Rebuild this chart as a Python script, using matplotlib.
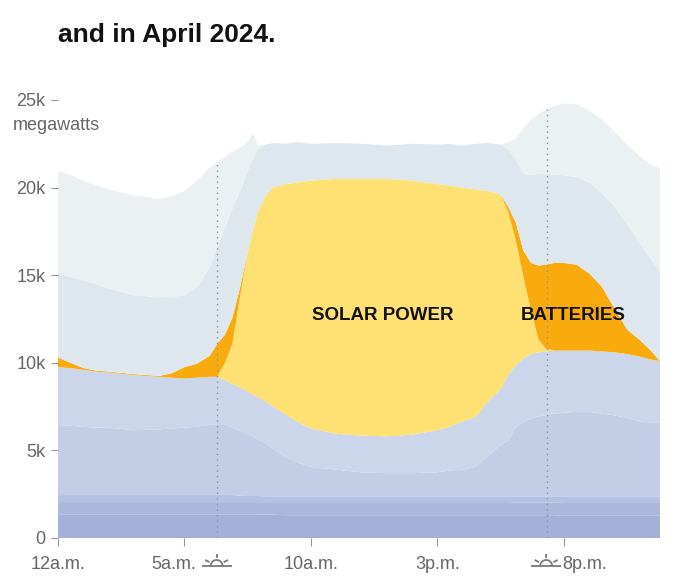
import numpy as np
import matplotlib
matplotlib.use('Agg')
import matplotlib.pyplot as plt

# 時刻（時）と各レイヤーの上端（千MW）
hours = [0, 0.5, 1, 1.5, 2, 3, 4, 4.5, 5, 5.5,
         6, 6.3, 6.6, 6.9, 7.2, 7.5, 7.7, 7.9, 8.2, 8.5,
         9, 9.5, 10, 11, 12, 13, 14, 15, 15.5, 16,
         16.5, 17, 17.5, 17.8, 18.1, 18.4, 18.7, 19, 19.3, 19.6,
         20, 20.5, 21, 21.5, 22, 22.5, 23, 23.4, 23.8]

layer1_top = [1.35, 1.35, 1.35, 1.35, 1.35, 1.35, 1.35, 1.35, 1.35, 1.35,
              1.35, 1.35, 1.35, 1.35, 1.35, 1.35, 1.35, 1.35, 1.33, 1.33,
              1.3, 1.3, 1.3, 1.3, 1.3, 1.3, 1.3, 1.3, 1.3, 1.3,
              1.3, 1.3, 1.3, 1.3, 1.3, 1.3, 1.3, 1.3, 1.3, 1.3,
              1.28, 1.28, 1.28, 1.28, 1.28, 1.28, 1.28, 1.28, 1.28]

layer2_top = [2.05, 2.05, 2.05, 2.05, 2.05, 2.05, 2.05, 2.05, 2.05, 2.05,
              2.05, 2.05, 2.05, 2.05, 2.05, 2.05, 2.05, 2.05, 2.05, 2.05,
              2.05, 2.05, 2.05, 2.05, 2.05, 2.05, 2.05, 2.05, 2.05, 2.05,
              2.05, 2.05, 2.05, 2.05, 2.03, 2.03, 2.03, 2.03, 2.03, 2.03,
              2.0, 2.0, 2.0, 2.0, 2.0, 2.0, 2.0, 2.0, 2.0]

layer3_top = [2.45, 2.45, 2.45, 2.45, 2.45, 2.45, 2.45, 2.45, 2.45, 2.45,
              2.45, 2.45, 2.45, 2.45, 2.42, 2.4, 2.4, 2.4, 2.38, 2.38,
              2.35, 2.35, 2.35, 2.35, 2.35, 2.35, 2.35, 2.35, 2.35, 2.35,
              2.35, 2.35, 2.35, 2.35, 2.35, 2.35, 2.35, 2.35, 2.35, 2.35,
              2.35, 2.35, 2.35, 2.35, 2.35, 2.35, 2.35, 2.35, 2.35]

layer4_top = [6.45, 6.4, 6.35, 6.3, 6.3, 6.15, 6.2, 6.25, 6.3, 6.35,
              6.45, 6.5, 6.5, 6.3, 6.1, 5.95, 5.8, 5.65, 5.4, 5.1,
              4.6, 4.3, 4.05, 3.9, 3.75, 3.7, 3.7, 3.75, 3.85, 3.9,
              4.05, 4.65, 5.3, 5.55, 6.35, 6.6, 6.8, 6.95, 7.0, 7.1,
              7.15, 7.2, 7.2, 7.1, 7.0, 6.85, 6.65, 6.6, 6.6]

layer5_top = [9.75, 9.7, 9.6, 9.5, 9.45, 9.3, 9.2, 9.15, 9.1, 9.15,
              9.2, 9.2, 9.0, 8.8, 8.6, 8.35, 8.2, 8.05, 7.8, 7.5,
              7.05, 6.6, 6.25, 5.95, 5.85, 5.8, 5.9, 6.15, 6.35, 6.65,
              6.9, 7.8, 8.5, 9.3, 9.85, 10.25, 10.5, 10.6, 10.65, 10.7,
              10.7, 10.7, 10.7, 10.65, 10.6, 10.5, 10.35, 10.2, 10.1]

solar_top = [9.75, 9.7, 9.6, 9.5, 9.45, 9.3, 9.2, 9.15, 9.1, 9.15,
             9.2, 9.2, 10.0, 11.1, 13.8, 16.3, 17.5, 18.6, 19.5, 20.0,
             20.2, 20.3, 20.4, 20.5, 20.5, 20.5, 20.4, 20.2, 20.1, 20.0,
             19.9, 19.8, 19.6, 18.6, 17.0, 14.9, 13.0, 11.3, 10.8, 10.7,
             10.7, 10.7, 10.7, 10.65, 10.6, 10.5, 10.35, 10.2, 10.1]

battery_top = [10.3, 10.0, 9.7, 9.55, 9.5, 9.35, 9.25, 9.4, 9.75, 9.95,
               10.4, 11.1, 11.6, 12.6, 14.3, 16.3, 17.5, 18.6, 19.5, 20.0,
               20.2, 20.3, 20.4, 20.5, 20.5, 20.5, 20.4, 20.2, 20.1, 20.0,
               19.9, 19.8, 19.6, 18.9, 18.0, 16.4, 15.7, 15.55, 15.6, 15.7,
               15.7, 15.6, 15.1, 14.35, 13.1, 11.9, 11.3, 10.75, 10.1]

layer7_top = [15.1, 14.9, 14.7, 14.5, 14.25, 13.85, 13.75, 13.75, 13.85, 14.3,
              15.45, 16.6, 17.7, 18.8, 19.8, 20.95, 21.6, 22.2, 22.45, 22.55,
              22.5, 22.6, 22.5, 22.55, 22.5, 22.4, 22.5, 22.45, 22.5, 22.4,
              22.5, 22.55, 22.45, 22.2, 21.6, 20.8, 20.7, 20.8, 20.8, 20.75,
              20.7, 20.6, 20.3, 19.7, 18.9, 17.9, 16.8, 16.0, 15.2]

layer8_top = [20.95, 20.7, 20.4, 20.15, 19.9, 19.55, 19.35, 19.5, 19.8, 20.4,
              21.15, 21.5, 21.75, 22.05, 22.3, 22.6, 23.1, 22.4, 22.45, 22.55,
              22.5, 22.6, 22.5, 22.55, 22.5, 22.4, 22.5, 22.45, 22.5, 22.4,
              22.5, 22.55, 22.45, 22.6, 22.8, 23.4, 23.9, 24.2, 24.45, 24.65,
              24.8, 24.75, 24.4, 23.9, 23.2, 22.45, 21.8, 21.35, 21.1]

layer_colors = ['#a3b0d7', '#abb8dc', '#b5c1e1', '#c2cde6', '#ccd6ea',
                '#fee172', '#f9ab0e', '#dee6ee', '#ebf1f2']

y_ticks = [0, 5, 10, 15, 20, 25]
y_labels = ['0', '5k', '10k', '15k', '20k', '25k']
x_ticks = [0, 5, 10, 15, 20]
x_labels = ['12a.m.', '5a.m.', '10a.m.', '3p.m.', '8p.m.']

sunrise = 6.27
sunset = 19.35

plt.rcParams['font.family'] = ['Liberation Sans', 'DejaVu Sans']

W, H = 682, 587
fig = plt.figure(figsize=(W / 100, H / 100), dpi=100)
ax_left, ax_bottom, ax_w, ax_h = 58 / W, 49 / H, 602 / W, 438 / H
ax = fig.add_axes([ax_left, ax_bottom, ax_w, ax_h])

x = np.array(hours)
tops = [layer1_top, layer2_top, layer3_top, layer4_top, layer5_top,
        solar_top, battery_top, layer7_top, layer8_top]
prev = np.zeros(len(x))
for top, color in zip(tops, layer_colors):
    top = np.maximum(np.array(top), prev)
    ax.fill_between(x, prev, top, color=color, linewidth=0, edgecolor='none')
    prev = top
total = prev

# 日の出・日の入りの点線
for t in (sunrise, sunset):
    ax.plot([t, t], [0, np.interp(t, x, total)], color='#8a90a3',
            linewidth=1, linestyle=(0, (1, 3)), zorder=5)

ax.text(12.85, 12.7, 'SOLAR POWER', fontsize=13.5, fontweight='bold',
        ha='center', va='center', color='#111111', zorder=6)
ax.text(20.35, 12.7, 'BATTERIES', fontsize=13.5, fontweight='bold',
        ha='center', va='center', color='#111111', zorder=6)

ax.set_xlim(0, 23.8)
ax.set_ylim(0, 25)
for s in ax.spines.values():
    s.set_visible(False)

ax.set_yticks(y_ticks)
ax.set_yticklabels(y_labels)
ax.tick_params(axis='y', length=5, width=0.8, color='#999999', pad=4,
               labelsize=13, labelcolor='#666666')
ax.set_xticks(x_ticks)
ax.set_xticklabels([])
ax.tick_params(axis='x', length=6, width=0.8, color='#999999')

# x軸ラベル（5a.m.と8p.m.はアイコンの横に配置）
xt = ax.get_xaxis_transform()
label_y = -0.06
for t, lab in zip(x_ticks, x_labels):
    if lab == '5a.m.':
        ax.text(sunrise - 0.8, label_y, lab, transform=xt, ha='right', va='center',
                fontsize=13, color='#666666')
    elif lab == '8p.m.':
        ax.text(sunset + 0.6, label_y, lab, transform=xt, ha='left', va='center',
                fontsize=13, color='#666666')
    else:
        ax.text(t, label_y, lab, transform=xt, ha='center', va='center',
                fontsize=13, color='#666666')


def draw_sun(center_h):
    # ピクセル単位で描く小さな日の出アイコン
    cx = ax_left + center_h / 23.8 * ax_w
    iw, ih = 34, 18
    icon = fig.add_axes([cx - iw / 2 / W, (H - 568) / H, iw / W, ih / H])
    icon.set_xlim(-17, 17)
    icon.set_ylim(-2, 16)
    icon.axis('off')
    c = '#7a7a7a'
    lw = 1.3
    icon.plot([-15, 15], [0, 0], color=c, linewidth=lw, solid_capstyle='butt')
    th = np.linspace(0, np.pi, 40)
    icon.plot(6 * np.cos(th), 6 * np.sin(th), color=c, linewidth=lw)
    for a, r0, r1 in ((28, 8, 13), (90, 8, 12), (152, 8, 13)):
        r = np.radians(a)
        icon.plot([r0 * np.cos(r), r1 * np.cos(r)],
                  [r0 * np.sin(r), r1 * np.sin(r)], color=c, linewidth=lw,
                  solid_capstyle='butt')


draw_sun(sunrise)
draw_sun(sunset - 0.05)

fig.text(58 / W, 1 - 35 / H, 'and in April 2024.', fontsize=19,
         fontweight='bold', ha='left', va='center', color='#111111')
fig.text(13 / W, 1 - 126 / H, 'megawatts', fontsize=13, ha='left',
         va='center', color='#666666')

fig.savefig('out.png', dpi=100)
